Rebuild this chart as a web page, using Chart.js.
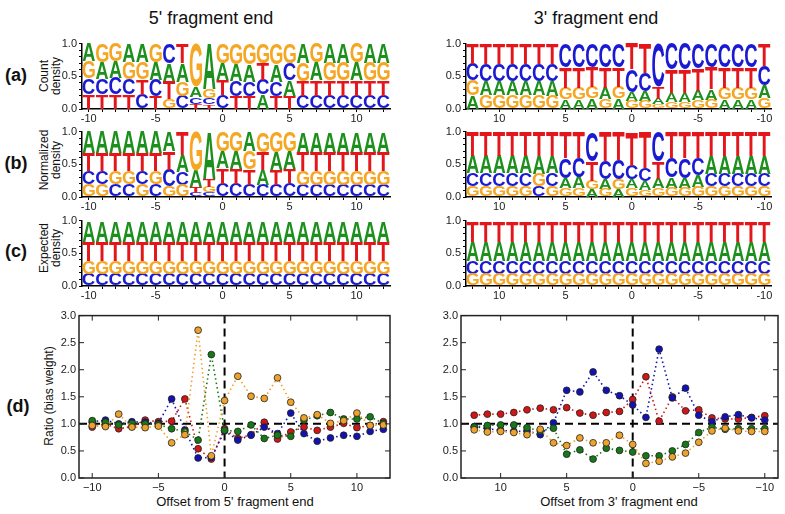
<!DOCTYPE html>
<html>
<head>
<meta charset="utf-8">
<script src="https://cdn.jsdelivr.net/npm/chart.js@4.4.1/dist/chart.umd.min.js"></script>
<style>
body { margin: 0; background: #fff; font-family: "Liberation Sans", Arial, sans-serif; }
#wrap { position: relative; width: 785px; height: 514px; overflow: hidden; }
.box { position: absolute; }
.txt { position: absolute; white-space: nowrap; color: #111; transform: translate(-50%, -50%); }
.rot { transform: translate(-50%, -50%) rotate(-90deg); text-align: center; line-height: 12px; font-size: 12px; }
.panel { font-weight: bold; font-size: 18px; }
</style>
</head>
<body>
<div id="wrap">
  <div class="txt" style="left:211px;top:18px;font-size:18px">5' fragment end</div>
  <div class="txt" style="left:596px;top:18px;font-size:18px">3' fragment end</div>

  <div class="txt panel" style="left:16px;top:75px">(a)</div>
  <div class="txt panel" style="left:16px;top:163px">(b)</div>
  <div class="txt panel" style="left:16px;top:251px">(c)</div>
  <div class="txt panel" style="left:18px;top:406px">(d)</div>

  <div class="txt rot" style="left:50px;top:76px">Count<br>density</div>
  <div class="txt rot" style="left:50px;top:160px">Normalized<br>density</div>
  <div class="txt rot" style="left:50px;top:248px">Expected<br>density</div>
  <div class="txt rot" style="left:49px;top:396px">Ratio (bias weight)</div>

  <div class="txt" style="left:235px;top:501px;font-size:13px">Offset from 5' fragment end</div>
  <div class="txt" style="left:619px;top:501px;font-size:13px">Offset from 3' fragment end</div>

  <div class="box" style="left:52px;top:35px;width:345px;height:92px"><canvas id="count5"></canvas></div>
  <div class="box" style="left:52px;top:123px;width:345px;height:92px"><canvas id="norm5"></canvas></div>
  <div class="box" style="left:52px;top:212px;width:345px;height:92px"><canvas id="exp5"></canvas></div>
  <div class="box" style="left:436px;top:35px;width:342px;height:92px"><canvas id="count3"></canvas></div>
  <div class="box" style="left:436px;top:123px;width:342px;height:92px"><canvas id="norm3"></canvas></div>
  <div class="box" style="left:436px;top:212px;width:342px;height:92px"><canvas id="exp3"></canvas></div>
  <div class="box" style="left:40px;top:306px;width:356px;height:190px"><canvas id="ratio5"></canvas></div>
  <div class="box" style="left:422px;top:306px;width:362px;height:190px"><canvas id="ratio3"></canvas></div>
</div>

<script>
// positions (5' end goes left to right, 3' end is drawn reversed)
const offsets5 = [-10,-9,-8,-7,-6,-5,-4,-3,-2,-1,0,1,2,3,4,5,6,7,8,9,10,11,12];
const offsets3 = [12,11,10,9,8,7,6,5,4,3,2,1,0,-1,-2,-3,-4,-5,-6,-7,-8,-9,-10];
const ratioTicks = [-10,-5,0,5,10];

// 5' count density
const count5A = [.27,.26,.26,.28,.28,.27,.28,.28,.16,.70,.26,.25,.26,.22,.26,.24,.30,.27,.29,.29,.27,.29,.29];
const count5C = [.245,.24,.25,.24,.22,.25,.30,.20,.10,.09,.21,.23,.22,.23,.22,.26,.20,.20,.20,.20,.20,.20,.20];
const count5G = [.255,.28,.27,.26,.26,.28,.15,.22,.66,.14,.30,.32,.32,.30,.32,.30,.27,.29,.27,.27,.29,.27,.27];
const count5T = [.23,.22,.22,.22,.24,.20,.27,.30,.08,.07,.23,.20,.20,.25,.20,.20,.23,.24,.24,.24,.24,.24,.24];

// 5' normalized density
const norm5A = [.33,.33,.33,.33,.33,.33,.30,.26,.25,.72,.26,.27,.30,.24,.27,.27,.32,.32,.32,.32,.32,.32,.32];
const norm5C = [.205,.205,.195,.195,.205,.195,.25,.20,.06,.07,.20,.20,.18,.18,.18,.21,.18,.18,.18,.18,.18,.18,.18];
const norm5G = [.195,.195,.205,.205,.195,.205,.17,.18,.60,.09,.30,.30,.28,.31,.32,.30,.21,.21,.21,.21,.21,.21,.21];
const norm5T = [.27,.27,.27,.27,.27,.27,.28,.36,.09,.12,.24,.23,.24,.27,.23,.22,.29,.29,.29,.29,.29,.29,.29];

// 5' expected density
const exp5A = [.32,.32,.32,.32,.32,.32,.32,.32,.32,.32,.32,.32,.32,.32,.32,.32,.32,.32,.32,.32,.32,.32,.32];
const exp5C = [.18,.18,.18,.18,.18,.18,.18,.18,.18,.18,.18,.18,.18,.18,.18,.18,.18,.18,.18,.18,.18,.18,.18];
const exp5G = [.20,.20,.20,.20,.20,.20,.20,.20,.20,.20,.20,.20,.20,.20,.20,.20,.20,.20,.20,.20,.20,.20,.20];
const exp5T = [.30,.30,.30,.30,.30,.30,.30,.30,.30,.30,.30,.30,.30,.30,.30,.30,.30,.30,.30,.30,.30,.30,.30];

// 3' count density
const count3A = [.21,.22,.22,.22,.22,.22,.23,.15,.15,.16,.17,.16,.14,.15,.09,.13,.13,.15,.16,.15,.15,.15,.19];
const count3C = [.25,.26,.26,.26,.26,.26,.26,.36,.36,.36,.36,.36,.35,.28,.66,.40,.40,.38,.37,.36,.36,.36,.30];
const count3G = [.23,.21,.21,.21,.21,.21,.20,.17,.17,.17,.15,.18,.12,.12,.07,.11,.11,.13,.14,.17,.17,.17,.17];
const count3T = [.31,.31,.31,.31,.31,.31,.31,.32,.32,.31,.32,.30,.39,.45,.18,.36,.36,.34,.33,.32,.32,.32,.34];

// 3' normalized density
const norm3A = [.27,.27,.27,.27,.27,.27,.26,.16,.17,.12,.15,.12,.14,.13,.15,.16,.15,.18,.28,.28,.28,.28,.28];
const norm3C = [.19,.19,.19,.19,.19,.16,.20,.31,.30,.45,.28,.29,.21,.20,.46,.30,.31,.26,.19,.19,.19,.19,.19];
const norm3G = [.17,.17,.17,.17,.17,.19,.16,.13,.13,.13,.12,.15,.13,.11,.13,.14,.14,.16,.16,.16,.16,.16,.16];
const norm3T = [.37,.37,.37,.37,.37,.38,.38,.40,.40,.30,.45,.44,.52,.56,.26,.40,.40,.40,.37,.37,.37,.37,.37];

// 3' expected density
const exp3A = [.30,.30,.30,.30,.30,.30,.30,.30,.30,.30,.30,.30,.30,.30,.30,.30,.30,.30,.30,.30,.30,.30,.30];
const exp3C = [.20,.20,.20,.20,.20,.20,.20,.20,.20,.20,.20,.20,.20,.20,.20,.20,.20,.20,.20,.20,.20,.20,.20];
const exp3G = [.18,.18,.18,.18,.18,.18,.18,.18,.18,.18,.18,.18,.18,.18,.18,.18,.18,.18,.18,.18,.18,.18,.18];
const exp3T = [.32,.32,.32,.32,.32,.32,.32,.32,.32,.32,.32,.32,.32,.32,.32,.32,.32,.32,.32,.32,.32,.32,.32];

// (d) bias weights, 5' end (same order as offsets5)
const ratio5A = [1.06,1.03,.98,1.01,1.00,.99,.91,.86,.70,2.28,.88,.86,.98,.73,.79,.77,1.07,1.15,1.21,1.09,1.09,1.13,1.01];
const ratio5C = [1.03,1.07,1.00,1.04,1.03,1.01,1.46,.89,.37,.38,.87,.70,.79,.94,.82,1.20,.82,.68,.74,.79,.77,.86,.90];
const ratio5G = [.97,.95,1.18,.94,.93,.96,.65,.80,2.73,.41,1.43,1.88,1.51,1.47,1.85,1.40,1.11,1.17,1.01,1.06,1.20,.97,.98];
const ratio5T = [.94,1.00,.91,.95,1.07,1.04,1.05,1.46,.54,.35,.91,.73,.80,1.03,.72,.85,.94,.88,.94,1.01,.93,.97,1.04];

// (d) bias weights, 3' end (same order as offsets3)
const ratio3A = [.94,.97,.98,.98,.93,.87,.92,.44,.52,.35,.55,.51,.48,.41,.41,.50,.62,.84,.94,.90,.91,.91,.91];
const ratio3C = [.95,.91,.88,.86,.87,.80,1.02,1.62,1.59,1.96,1.62,1.52,1.35,1.12,2.38,1.48,1.66,1.16,1.04,1.13,1.17,1.11,1.07];
const ratio3G = [.89,.85,.86,.84,.80,.90,.65,.60,.74,.65,.65,.79,.62,.27,.31,.39,.46,.66,.87,.92,.87,.86,.86];
const ratio3T = [1.16,1.18,1.18,1.21,1.26,1.29,1.26,1.30,1.20,1.16,1.21,1.23,1.45,1.87,1.05,1.50,1.24,1.26,1.11,1.09,1.09,1.12,1.15];

const letters = ['A', 'C', 'G', 'T'];
const logoColors = { A: '#1c8f1c', C: '#1a1ad2', G: '#f5a623', T: '#e3161c' };
const dotColors = { A: '#167816', C: '#1212b0', G: '#eca22c', T: '#d01616' };
const FONT = '"Liberation Sans", Arial, sans-serif';

// stretch one letter into the rectangle of a bar
function drawGlyph(ctx, ch, color, x, y, w, h) {
  if (h < 0.5) return;
  ctx.save();
  ctx.font = 'bold 100px ' + FONT;
  ctx.textAlign = 'left';
  ctx.textBaseline = 'alphabetic';
  const m = ctx.measureText(ch);
  const gw = m.actualBoundingBoxLeft + m.actualBoundingBoxRight;
  const gh = m.actualBoundingBoxAscent + m.actualBoundingBoxDescent;
  ctx.translate(x, y);
  ctx.scale(w / gw, h / gh);
  ctx.fillStyle = color;
  ctx.fillText(ch, m.actualBoundingBoxLeft, m.actualBoundingBoxAscent);
  ctx.restore();
}

const letterPlugin = {
  id: 'letters',
  afterDatasetsDraw(chart) {
    const ctx = chart.ctx;
    chart.data.datasets.forEach((ds, di) => {
      chart.getDatasetMeta(di).data.forEach(bar => {
        const p = bar.getProps(['x', 'y', 'base', 'width'], true);
        drawGlyph(ctx, ds.label, ds.letterColor, p.x - p.width / 2, Math.min(p.y, p.base), p.width, Math.abs(p.base - p.y));
      });
    });
  }
};

function logoChart(id, positions, A, C, G, T) {
  const freq = { A, C, G, T };
  const ranges = { A: [], C: [], G: [], T: [] };
  positions.forEach((p, i) => {
    // smallest letter at the bottom, tallest on top
    const order = letters.slice().sort((a, b) => freq[a][i] - freq[b][i]);
    let base = 0;
    order.forEach(l => {
      ranges[l].push([base, base + freq[l][i]]);
      base += freq[l][i];
    });
  });

  new Chart(document.getElementById(id), {
    type: 'bar',
    data: {
      labels: positions,
      datasets: letters.map(l => ({
        label: l,
        data: ranges[l],
        letterColor: logoColors[l],
        backgroundColor: 'rgba(0,0,0,0)',
        borderWidth: 0,
        grouped: false,
        barPercentage: 0.92,
        categoryPercentage: 1
      }))
    },
    options: {
      responsive: true,
      maintainAspectRatio: false,
      animation: false,
      layout: { padding: { top: 8, right: 7, left: 0, bottom: 0 } },
      plugins: { legend: { display: false }, tooltip: { enabled: false } },
      scales: {
        x: {
          type: 'category',
          offset: true,
          grid: { offset: false, drawOnChartArea: false, color: '#000', tickLength: 3 },
          border: { color: '#000', width: 1.5 },
          ticks: {
            autoSkip: false, maxRotation: 0, padding: 0, color: '#222',
            font: { size: 11, family: FONT },
            callback: function (v) {
              const p = this.getLabelForValue(v);
              return p % 5 === 0 ? String(p) : '';
            }
          },
          afterFit: s => { s.height = 18; }
        },
        y: {
          min: 0, max: 1,
          grid: { drawOnChartArea: false, color: '#000', tickLength: 3 },
          border: { color: '#000', width: 1.5 },
          ticks: {
            stepSize: 0.1, autoSkip: false, padding: 2, color: '#222',
            font: { size: 11, family: FONT },
            callback: v => Math.abs(v * 2 - Math.round(v * 2)) < 1e-6 ? v.toFixed(1) : ''
          },
          afterFit: s => { s.width = 30; }
        }
      }
    },
    plugins: [letterPlugin]
  });
}

const framePlugin = {
  id: 'frame',
  beforeDatasetsDraw(chart) {
    const { ctx, chartArea: a, scales: { x, y } } = chart;
    const y1 = y.getPixelForValue(1);
    const x0 = x.getPixelForValue(0);
    ctx.save();
    ctx.strokeStyle = '#000';
    ctx.lineWidth = 2;
    ctx.setLineDash([8, 5]);
    ctx.beginPath();
    ctx.moveTo(a.left, y1); ctx.lineTo(a.right, y1);
    ctx.moveTo(x0, a.top); ctx.lineTo(x0, a.bottom);
    ctx.stroke();
    ctx.restore();
  },
  afterDraw(chart) {
    const { ctx, chartArea: a, scales: { x, y } } = chart;
    ctx.save();
    ctx.strokeStyle = '#222';
    ctx.lineWidth = 1.5;
    ctx.strokeRect(a.left, a.top, a.right - a.left, a.bottom - a.top);
    ctx.lineWidth = 1;
    ctx.beginPath();
    x.ticks.forEach(t => {
      const px = x.getPixelForValue(t.value);
      ctx.moveTo(px, a.bottom); ctx.lineTo(px, a.bottom - 5);
      ctx.moveTo(px, a.top); ctx.lineTo(px, a.top + 5);
    });
    y.ticks.forEach(t => {
      const py = y.getPixelForValue(t.value);
      ctx.moveTo(a.left, py); ctx.lineTo(a.left + 5, py);
      ctx.moveTo(a.right, py); ctx.lineTo(a.right - 5, py);
    });
    ctx.stroke();
    ctx.restore();
  }
};

function ratioChart(id, offsets, A, C, G, T, xmin, xmax, reverse) {
  const series = { A, C, G, T };
  new Chart(document.getElementById(id), {
    type: 'line',
    data: {
      datasets: ['G', 'A', 'C', 'T'].map(l => ({
        label: l,
        data: offsets.map((o, i) => ({ x: o, y: series[l][i] })),
        borderColor: dotColors[l],
        borderWidth: 1.6,
        borderDash: [1.5, 3],
        pointRadius: 3.4,
        pointBorderWidth: 0.8,
        pointBorderColor: '#222',
        pointBackgroundColor: dotColors[l],
        fill: false,
        tension: 0
      }))
    },
    options: {
      responsive: true,
      maintainAspectRatio: false,
      animation: false,
      layout: { padding: { top: 8, right: 6, left: 0, bottom: 0 } },
      plugins: { legend: { display: false }, tooltip: { enabled: false } },
      scales: {
        x: {
          type: 'linear', min: xmin, max: xmax, reverse: reverse,
          grid: { display: false, drawTicks: false },
          border: { display: false },
          afterBuildTicks: s => { s.ticks = ratioTicks.map(v => ({ value: v })); },
          ticks: {
            padding: 3, color: '#222', font: { size: 11, family: FONT },
            callback: v => v < 0 ? '\u2212' + Math.abs(v) : String(v)
          },
          afterFit: s => { s.height = 18; }
        },
        y: {
          min: 0, max: 3,
          grid: { display: false, drawTicks: false },
          border: { display: false },
          ticks: {
            stepSize: 0.5, padding: 3, color: '#222', font: { size: 11, family: FONT },
            callback: v => v.toFixed(1)
          },
          afterFit: s => { s.width = 39; }
        }
      }
    },
    plugins: [framePlugin]
  });
}

logoChart('count5', offsets5, count5A, count5C, count5G, count5T);
logoChart('norm5', offsets5, norm5A, norm5C, norm5G, norm5T);
logoChart('exp5', offsets5, exp5A, exp5C, exp5G, exp5T);
logoChart('count3', offsets3, count3A, count3C, count3G, count3T);
logoChart('norm3', offsets3, norm3A, norm3C, norm3G, norm3T);
logoChart('exp3', offsets3, exp3A, exp3C, exp3G, exp3T);

ratioChart('ratio5', offsets5, ratio5A, ratio5C, ratio5G, ratio5T, -11, 12.5, false);
ratioChart('ratio3', offsets3, ratio3A, ratio3C, ratio3G, ratio3T, -11, 13, true);
</script>
</body>
</html>
